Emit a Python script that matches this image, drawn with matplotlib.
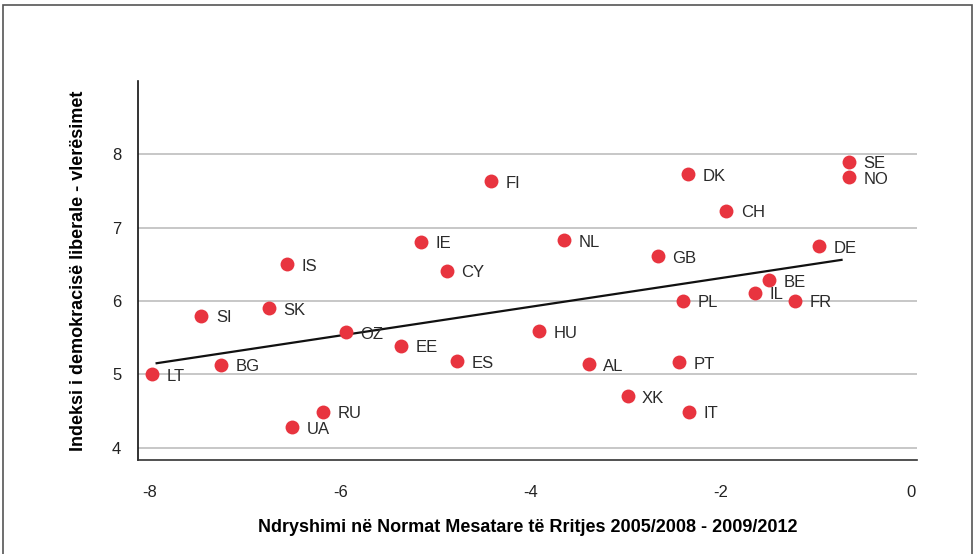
import numpy as np
import matplotlib.pyplot as plt
from matplotlib.patches import Rectangle

# country codes and values
codes = ['LT', 'BG', 'SI', 'SK', 'IS', 'OZ', 'EE', 'RU', 'UA', 'IE', 'FI', 'CY',
         'NL', 'GB', 'DK', 'PL', 'HU', 'ES', 'AL', 'PT', 'XK', 'IT', 'SE', 'NO',
         'CH', 'DE', 'BE', 'IL', 'FR']
growth_change = [-7.98, -7.25, -7.46, -6.75, -6.56, -5.94, -5.36, -6.18, -6.51, -5.15,
                 -4.41, -4.88, -3.65, -2.66, -2.34, -2.40, -3.91, -4.77, -3.39, -2.44,
                 -2.98, -2.33, -0.65, -0.65, -1.94, -0.97, -1.49, -1.64, -1.22]
democracy_index = [5.00, 5.13, 5.80, 5.90, 6.50, 5.57, 5.39, 4.49, 4.28, 6.81,
                   7.63, 6.41, 6.83, 6.61, 7.73, 6.00, 5.59, 5.18, 5.14, 5.16,
                   4.70, 4.49, 7.90, 7.69, 7.23, 6.75, 6.28, 6.11, 6.00]
# trend line as drawn in the chart (start / end)
trend_x = [-7.93, -0.73]
trend_y = [5.15, 6.56]
xticks = [-8, -6, -4, -2, 0]
yticks = [4, 5, 6, 7, 8]

plt.rcParams['font.family'] = ['Liberation Sans', 'DejaVu Sans']
narrow = ['Liberation Sans Narrow', 'Liberation Sans']

fig = plt.figure(figsize=(9.78, 5.54), dpi=100)
ax = fig.add_axes([0.1411, 0.1697, 0.7965, 0.6841])

ax.scatter(growth_change, democracy_index, s=100, color='#e8343f', zorder=3, linewidths=0)
ax.plot(trend_x, trend_y, color='#111111', lw=1.6, zorder=2)

for c, xi, yi in zip(codes, growth_change, democracy_index):
    ax.annotate(c, (xi, yi), xytext=(10.5, -1.5), textcoords='offset points',
                va='center', ha='left', fontsize=12, color='#2a2a2a', zorder=4)

ax.set_xlim(-8.126, 0.063)
ax.set_ylim(3.83, 9)
ax.set_xticks(xticks)
ax.set_yticks(yticks)
ax.set_xticklabels([str(t) for t in xticks], fontsize=12, color='#222222', family=narrow)
ax.set_yticklabels([str(t) for t in yticks], fontsize=12, color='#222222', family=narrow)
ax.tick_params(axis='both', length=0)
ax.tick_params(axis='x', pad=18)
ax.tick_params(axis='y', pad=12)
ax.yaxis.grid(True, color='#b8b8b8', lw=1.1)
ax.set_axisbelow(True)
for s in ['top', 'right']:
    ax.spines[s].set_visible(False)
ax.spines['left'].set_color('#111111')
ax.spines['bottom'].set_color('#333333')
ax.spines['left'].set_linewidth(1.2)
ax.spines['bottom'].set_linewidth(1.2)

ax.set_xlabel('Ndryshimi në Normat Mesatare të Rritjes 2005/2008 - 2009/2012',
              fontsize=13, fontweight='bold', labelpad=14, family=narrow)
ax.set_ylabel('Indeksi i demokracisë liberale - vlerësimet',
              fontsize=13, fontweight='bold', labelpad=18, family=narrow)

fig.patches.append(Rectangle((3 / 978, -0.02), 969 / 978, 1.02 - 5 / 554,
                             transform=fig.transFigure, fill=False,
                             edgecolor='#555555', lw=1.2))

fig.savefig('out.png', dpi=100)
